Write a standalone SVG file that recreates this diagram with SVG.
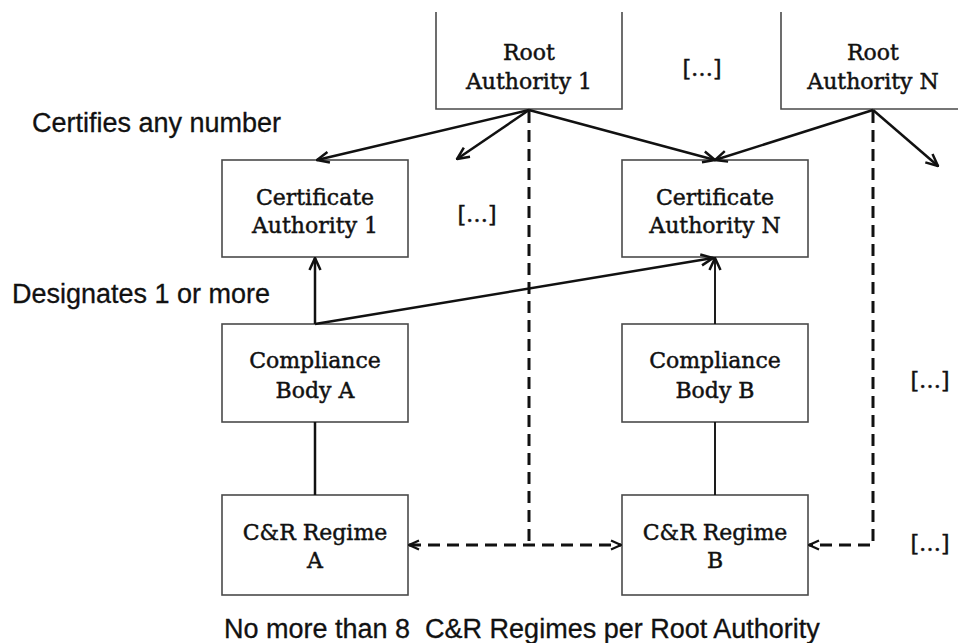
<svg xmlns="http://www.w3.org/2000/svg" width="958" height="643" viewBox="0 0 958 643">
  <style>
    .box { fill: #ffffff; stroke: #4a4a4a; stroke-width: 1.6; }
    .lbl { font-family: "DejaVu Serif", "Liberation Serif", serif; font-size: 22px; fill: #111; stroke: #111; stroke-width: 0.45; text-anchor: middle; }
    .note { font-family: "Liberation Sans", Arial, sans-serif; font-size: 27px; fill: #111; stroke: #111; stroke-width: 0.3; }
    .sol { fill: none; stroke: #111; stroke-width: 2.5; }
    .thin { fill: none; stroke: #111; stroke-width: 1.9; }
    .dash { fill: none; stroke: #111; stroke-width: 3; stroke-dasharray: 12 7; }
  </style>
  <defs>
    <marker id="arr" viewBox="0 0 14 14" refX="13" refY="7" markerWidth="14" markerHeight="14" markerUnits="userSpaceOnUse" orient="auto">
      <path d="M1,1.5 L13,7 L1,12.5" fill="none" stroke="#111" stroke-width="2.5"/>
    </marker>
    <marker id="arrs" viewBox="0 0 12 12" refX="11" refY="6" markerWidth="12" markerHeight="12" markerUnits="userSpaceOnUse" orient="auto-start-reverse">
      <path d="M1,1.5 L11,6 L1,10.5" fill="none" stroke="#111" stroke-width="2.2"/>
    </marker>
  </defs>
  <rect width="958" height="643" fill="#ffffff"/>

  <g id="root1">
    <path class="box" d="M436,12 V109 H622 V12"/>
    <text class="lbl" x="529" y="60">Root</text>
    <text class="lbl" x="529" y="89">Authority 1</text>
  </g>
  <g id="rootN">
    <path class="box" d="M781,12 V109 H962"/>
    <text class="lbl" x="873" y="60">Root</text>
    <text class="lbl" x="873" y="89">Authority N</text>
  </g>
  <g id="ellipsis-top"><text class="lbl" x="702" y="76">[…]</text></g>

  <g id="ca1">
    <rect class="box" x="222" y="160" width="186" height="97"/>
    <text class="lbl" x="315" y="205">Certificate</text>
    <text class="lbl" x="315" y="233">Authority 1</text>
  </g>
  <g id="ellipsis-ca"><text class="lbl" x="477" y="222">[…]</text></g>
  <g id="caN">
    <rect class="box" x="622" y="160" width="186" height="97"/>
    <text class="lbl" x="715" y="205">Certificate</text>
    <text class="lbl" x="715" y="233">Authority N</text>
  </g>

  <g id="cbA">
    <rect class="box" x="222" y="324" width="186" height="98"/>
    <text class="lbl" x="315" y="368">Compliance</text>
    <text class="lbl" x="315" y="398">Body A</text>
  </g>
  <g id="cbB">
    <rect class="box" x="622" y="324" width="186" height="98"/>
    <text class="lbl" x="715" y="368">Compliance</text>
    <text class="lbl" x="715" y="398">Body B</text>
  </g>
  <g id="ellipsis-cb"><text class="lbl" x="930" y="388">[…]</text></g>

  <g id="crA">
    <rect class="box" x="222" y="495" width="186" height="100"/>
    <text class="lbl" x="315" y="540">C&amp;R Regime</text>
    <text class="lbl" x="315" y="568">A</text>
  </g>
  <g id="crB">
    <rect class="box" x="622" y="495" width="186" height="100"/>
    <text class="lbl" x="715" y="540">C&amp;R Regime</text>
    <text class="lbl" x="715" y="568">B</text>
  </g>
  <g id="ellipsis-cr"><text class="lbl" x="930" y="551">[…]</text></g>

  <g id="labels">
    <text class="note" x="32" y="132">Certifies any number</text>
    <text class="note" x="12" y="303">Designates 1 or more</text>
    <text class="note" x="224" y="638" xml:space="preserve">No more than 8  C&amp;R Regimes per Root Authority</text>
  </g>

  <g id="connectors">
    <line class="sol" x1="529" y1="110" x2="317" y2="160" marker-end="url(#arr)"/>
    <line class="sol" x1="529" y1="110" x2="457" y2="159" marker-end="url(#arr)"/>
    <line class="sol" x1="529" y1="110" x2="715" y2="160" marker-end="url(#arr)"/>
    <line class="sol" x1="873" y1="110" x2="715" y2="160" marker-end="url(#arr)"/>
    <line class="sol" x1="873" y1="110" x2="938" y2="166" marker-end="url(#arr)"/>
    <line class="sol" x1="315" y1="324" x2="315" y2="258" marker-end="url(#arr)"/>
    <line class="sol" x1="315" y1="324" x2="713" y2="258" marker-end="url(#arr)"/>
    <line class="thin" x1="715" y1="324" x2="715" y2="258" marker-end="url(#arr)"/>
    <line class="sol" x1="315" y1="422" x2="315" y2="495"/>
    <line class="thin" x1="715" y1="422" x2="715" y2="495"/>
    <path class="dash" d="M529,111 V545"/>
    <path class="dash" d="M409,545 H621" marker-start="url(#arrs)" marker-end="url(#arrs)"/>
    <path class="dash" d="M873,111 V545 H809" marker-end="url(#arrs)"/>
  </g>
</svg>
